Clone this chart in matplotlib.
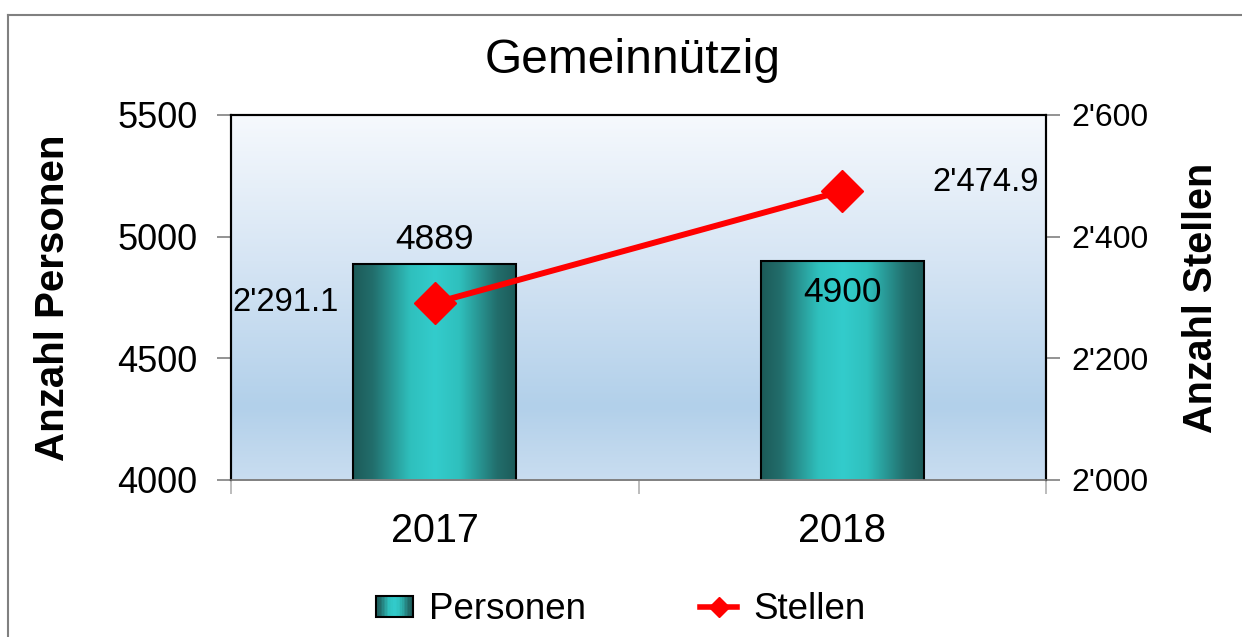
import numpy as np
import matplotlib.pyplot as plt
from matplotlib.lines import Line2D
from matplotlib.patches import Patch, Rectangle
from matplotlib.colors import LinearSegmentedColormap
from matplotlib.legend_handler import HandlerBase
from matplotlib.ticker import FuncFormatter

plt.rcParams['font.family'] = ['Liberation Sans', 'DejaVu Sans']

# Daten
jahre = ['2017', '2018']
personen = [4889, 4900]
stellen = [2291.1, 2474.9]

bar_cmap = LinearSegmentedColormap.from_list('bar', [(0, '#1c5a58'), (0.12, '#226e6c'), (0.35, '#2fc0bd'),
                                                      (0.5, '#33cccc'), (0.65, '#2fc0bd'), (0.88, '#226e6c'),
                                                      (1, '#1c5a58')])


class HandlerVerlauf(HandlerBase):
    # Legendensymbol mit Farbverlauf wie die Balken
    def create_artists(self, legend, orig_handle, xdescent, ydescent, width, height, fontsize, trans):
        n = 24
        teile = []
        for i in range(n):
            teile.append(Rectangle((-xdescent + i * width / n, -ydescent), width / n + 0.3, height,
                                   facecolor=bar_cmap((i + 0.5) / n), edgecolor='none', transform=trans))
        teile.append(Rectangle((-xdescent, -ydescent), width, height, facecolor='none',
                               edgecolor='black', linewidth=1.5, transform=trans))
        return teile


fig = plt.figure(figsize=(12.42, 6.37), dpi=100)
ax = fig.add_axes([0.186, 0.2465, 0.6562, 0.573])
ax2 = ax.twinx()

x = np.arange(len(jahre))

# Hintergrund mit Verlauf
bg = LinearSegmentedColormap.from_list('bg', [(0, '#c9ddf0'), (0.2, '#b2d0ea'), (0.6, '#d6e5f4'), (1, '#f6f9fd')])
ax.imshow(np.linspace(0, 1, 256).reshape(-1, 1), cmap=bg, origin='lower', aspect='auto',
          extent=[0, 1, 0, 1], transform=ax.transAxes, zorder=0)

# Balken mit horizontalem Verlauf
balken = ax.bar(x, personen, width=0.4, facecolor='none', edgecolor='black', linewidth=1.5, zorder=3)
grad = np.linspace(0, 1, 256).reshape(1, -1)
for b in balken:
    im = ax.imshow(grad, cmap=bar_cmap, aspect='auto', zorder=2,
                   extent=[b.get_x(), b.get_x() + b.get_width(), 4000, b.get_height()])
    im.set_clip_path(b)

ax.set_ylim(4000, 5500)
ax.set_xlim(-0.5, 1.5)
ax2.set_ylim(2000, 2600)

# Linie
ax2.plot(x, stellen, color='red', linewidth=4.3, marker='D', markersize=21, zorder=5)

# Beschriftungen
ax.text(x[0], personen[0] + 30, str(personen[0]), ha='center', va='bottom', fontsize=25.5)
ax.text(x[1], personen[1] - 62, str(personen[1]), ha='center', va='top', fontsize=25.5)


def apostroph(v, pos=None):
    return f"{v:,.0f}".replace(',', "'")


ax2.text(x[0] - 0.235, stellen[0], f"{stellen[0]:,.1f}".replace(',', "'"), ha='right', va='center', fontsize=23.5)
ax2.text(x[1] + 0.22, stellen[1] + 14, f"{stellen[1]:,.1f}".replace(',', "'"), ha='left', va='center', fontsize=23.5)

# Achsen
ax.set_yticks([4000, 4500, 5000, 5500])
ax.tick_params(axis='y', labelsize=26, length=10, color='#808080', width=1.2, pad=14)
ax2.set_yticks([2000, 2200, 2400, 2600])
ax2.yaxis.set_major_formatter(FuncFormatter(apostroph))
ax2.tick_params(axis='y', labelsize=23, length=10, color='#808080', width=1.2, pad=8)

ax.set_xticks([-0.5, 0.5, 1.5])
ax.set_xticklabels([])
ax.set_xticks(x, minor=True)
ax.set_xticklabels(jahre, minor=True)
ax.tick_params(axis='x', which='major', length=10, color='#b0b0b0', width=1.2)
ax.tick_params(axis='x', which='minor', length=0, labelsize=28.5, pad=23)

for a in (ax, ax2):
    for s in ('left', 'right', 'top'):
        a.spines[s].set_color('black')
        a.spines[s].set_linewidth(1.5)
    a.spines['bottom'].set_color('#808080')
    a.spines['bottom'].set_linewidth(1.2)

ax.set_ylabel('Anzahl Personen', fontsize=29, fontweight='bold', labelpad=33)
ax2.set_ylabel('Anzahl Stellen', fontsize=28.5, fontweight='bold', labelpad=24)

fig.text(0.509, 0.905, 'Gemeinnützig', ha='center', va='center', fontsize=34.5)

# Legende
handles = [Patch(), Line2D([], [], color='red', linewidth=4, marker='D', markersize=10)]
fig.legend(handles, ['Personen', 'Stellen'], loc='center', bbox_to_anchor=(0.5, 0.043), ncol=2,
           frameon=False, fontsize=26.5, columnspacing=3.1, handlelength=1.0, handleheight=0.5,
           handletextpad=0.45, handler_map={Patch: HandlerVerlauf()})

# Rahmen
fig.add_artist(Line2D([8 / 1242, 1], [1 - 15 / 637, 1 - 15 / 637], color='#808080', linewidth=1.5,
                      transform=fig.transFigure))
fig.add_artist(Line2D([8 / 1242, 8 / 1242], [0, 1 - 15 / 637], color='#808080', linewidth=1.5,
                      transform=fig.transFigure))

fig.savefig('out.png', dpi=100)
